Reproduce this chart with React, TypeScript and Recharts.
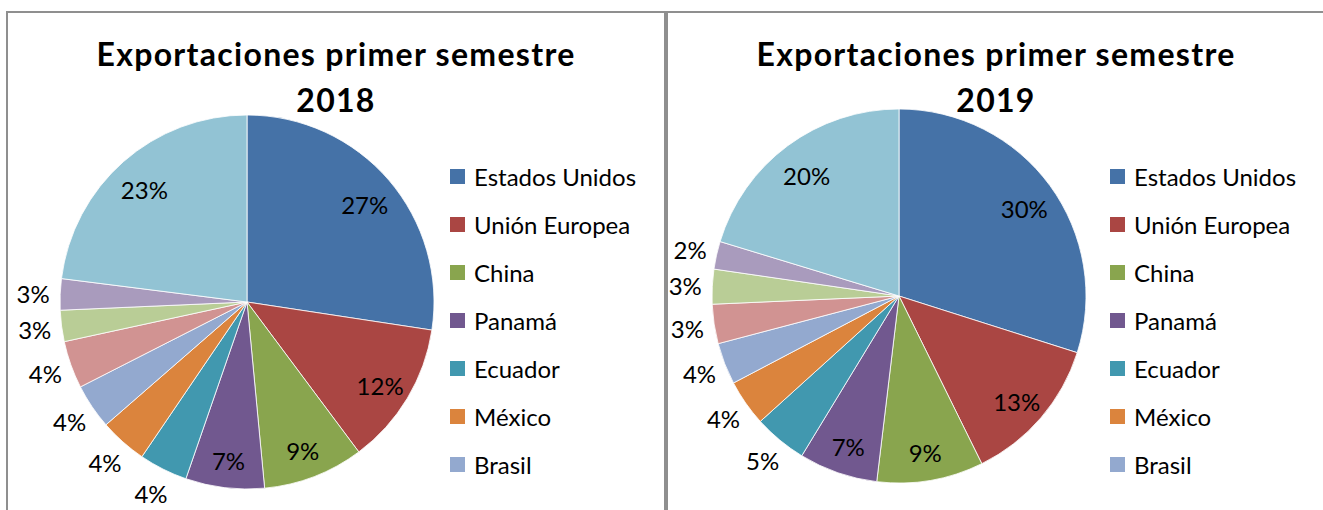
import { PieChart, Pie, Cell, Legend } from "recharts";

// categorías (las 4 últimas no aparecen en la leyenda original, que está cortada)
const CATEGORIES = [
  "Estados Unidos",
  "Unión Europea",
  "China",
  "Panamá",
  "Ecuador",
  "México",
  "Brasil",
  "Otro 1",
  "Otro 2",
  "Otro 3",
  "Otros",
];
const LEGEND_COUNT = 7;

const VALUES_2018 = [27.4, 12.4, 8.7, 6.8, 4.2, 4.1, 3.9, 4.1, 2.7, 2.7, 23.0];
const VALUES_2019 = [29.9, 12.8, 9.2, 6.8, 4.6, 4.0, 3.6, 3.4, 3.0, 2.4, 20.3];

const COLORS = [
  "#4572A7",
  "#AA4643",
  "#89A54E",
  "#71588F",
  "#4198AF",
  "#DB843D",
  "#93A9CF",
  "#D19392",
  "#B9CD96",
  "#A99BBD",
  "#92C3D4",
];

const TITLE = "Exportaciones primer semestre";
const FONT = "Lato, 'Open Sans', sans-serif";
const RAD = Math.PI / 180;

const renderLabel = (p: any) => {
  const { cx, cy, midAngle, outerRadius, percent } = p;
  const inside = percent > 0.06;
  const r = inside ? outerRadius * 0.83 : outerRadius + 27;
  const x = cx + r * Math.cos(-midAngle * RAD);
  const y = cy + r * Math.sin(-midAngle * RAD) + (inside ? 4 : 0);
  return (
    <text
      x={x}
      y={y}
      textAnchor="middle"
      dominantBaseline="central"
      fontFamily={FONT}
      fontSize={24}
      fill="#000"
    >
      {`${Math.round(percent * 100)}%`}
    </text>
  );
};

const renderLegend = () => (
  <div style={{ fontFamily: FONT, fontSize: 24, color: "#000" }}>
    {CATEGORIES.slice(0, LEGEND_COUNT).map((name, i) => (
      <div
        key={name}
        style={{ display: "flex", alignItems: "center", height: 48 }}
      >
        <span
          style={{
            width: 15,
            height: 15,
            background: COLORS[i],
            display: "inline-block",
            marginRight: 9,
            flexShrink: 0,
          }}
        />
        <span style={{ whiteSpace: "nowrap" }}>{name}</span>
      </div>
    ))}
  </div>
);

function ExportPie({
  year,
  values,
  cx,
  cy,
  width,
  border,
}: {
  year: string;
  values: number[];
  cx: number;
  cy: number;
  width: number;
  border: React.CSSProperties;
}) {
  const data = CATEGORIES.map((name, i) => ({ name, value: values[i] }));
  const titleProps = {
    x: 328,
    textAnchor: "middle" as const,
    fontFamily: FONT,
    fontWeight: "bold",
    fontSize: 32,
    letterSpacing: 1.3,
    fill: "#000",
  };
  return (
    <div
      style={{
        boxSizing: "border-box",
        width,
        height: 499,
        flexShrink: 0,
        overflow: "hidden",
        background: "#fff",
        ...border,
      }}
    >
      <PieChart
        width={655}
        height={497}
        margin={{ top: 0, right: 0, bottom: 0, left: 0 }}
      >
        <text {...titleProps} y={53}>
          {TITLE}
        </text>
        <text {...titleProps} y={99}>
          {year}
        </text>
        <Pie
          data={data}
          dataKey="value"
          nameKey="name"
          cx={cx}
          cy={cy}
          outerRadius={187}
          startAngle={90}
          endAngle={-270}
          stroke="#ffffff"
          strokeWidth={0.8}
          label={renderLabel}
          labelLine={false}
          isAnimationActive={false}
        >
          {data.map((d, i) => (
            <Cell key={d.name} fill={COLORS[i]} />
          ))}
        </Pie>
        <Legend
          content={renderLegend}
          wrapperStyle={{ position: "absolute", left: 442, top: 139, width: 212 }}
        />
      </PieChart>
    </div>
  );
}

export default function App() {
  return (
    <div
      style={{
        position: "absolute",
        left: 6,
        top: 11,
        display: "flex",
        width: 1317,
        height: 499,
        overflow: "hidden",
      }}
    >
      <ExportPie
        year="2018"
        values={VALUES_2018}
        cx={239}
        cy={289}
        width={660}
        border={{
          borderTop: "2px solid #8f8f8f",
          borderLeft: "2px solid #8f8f8f",
          borderRight: "2px solid #8f8f8f",
        }}
      />
      <ExportPie
        year="2019"
        values={VALUES_2019}
        cx={231}
        cy={283}
        width={657}
        border={{ borderTop: "2px solid #8f8f8f", borderLeft: "2px solid #8f8f8f" }}
      />
    </div>
  );
}
